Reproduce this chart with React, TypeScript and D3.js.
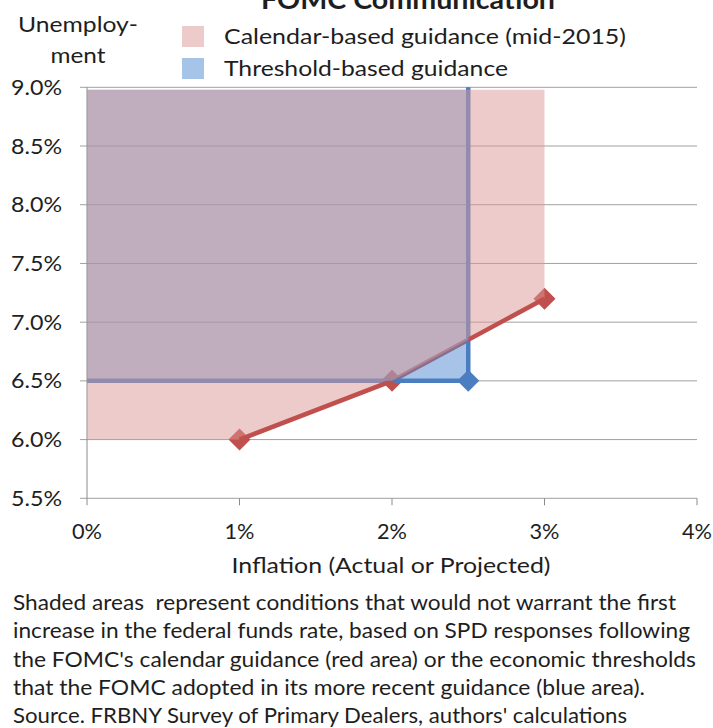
import React from "react";
import * as d3 from "d3";

// ---- data ----
const calendarInflation = [1, 2, 3];
const calendarUnemployment = [6.0, 6.5, 7.2];
const calendarAreaX = [0, 1, 2, 3, 3, 0];
const calendarAreaY = [6.0, 6.0, 6.5, 7.2, 8.98, 8.98];
const thresholdInflation = 2.5;
const thresholdUnemployment = 6.5;
const thresholdTop = 9.0;
const thresholdAreaTop = 8.98;
const xTicks = [0, 1, 2, 3, 4];
const xTickLabels = ["0%", "1%", "2%", "3%", "4%"];
const yTicks = [5.5, 6.0, 6.5, 7.0, 7.5, 8.0, 8.5, 9.0];
const yTickLabels = ["5.5%", "6.0%", "6.5%", "7.0%", "7.5%", "8.0%", "8.5%", "9.0%"];
const titleText = "FOMC Communication";
const legendLabels = ["Calendar-based guidance (mid-2015)", "Threshold-based guidance"];
const xAxisTitle = "Inflation (Actual or Projected)";
const yAxisTitle = ["Unemploy-", "ment"];
const footerLines = [
  "Shaded areas  represent conditions that would not warrant the first",
  "increase in the federal funds rate, based on SPD responses following",
  "the FOMC's calendar guidance (red area) or the economic thresholds",
  "that the FOMC adopted in its more recent guidance (blue area).",
  "Source. FRBNY Survey of Primary Dealers, authors' calculations",
];

const W = 713;
const H = 728;
const FONT = "Lato, 'Open Sans', sans-serif";
const TXT = "#1e1e1e";

export default function App() {
  const x = d3.scaleLinear().domain([0, 4]).range([87, 697]);
  const y = d3.scaleLinear().domain([5.5, 9.0]).range([498.3, 87.3]);

  const line = d3
    .line<[number, number]>()
    .x((d) => x(d[0]))
    .y((d) => y(d[1]));

  const redPts: [number, number][] = calendarInflation.map((v, i) => [v, calendarUnemployment[i]]);
  const redAreaPts: [number, number][] = calendarAreaX.map((v, i) => [v, calendarAreaY[i]]);
  const redAreaPath = line(redAreaPts) + "Z";
  const redLinePath = line(redPts) || "";

  const bx0 = x(0);
  const bx1 = x(thresholdInflation);
  const by0 = y(thresholdAreaTop);
  const by1 = y(thresholdUnemployment);
  const blueRectPath = `M${bx0},${by0}H${bx1}V${by1}H${bx0}Z`;
  const blueLinePath =
    line([
      [0, thresholdUnemployment],
      [thresholdInflation, thresholdUnemployment],
      [thresholdInflation, thresholdTop],
    ]) || "";

  const diamond = (cx: number, cy: number, r: number) =>
    `M${cx},${cy - r}L${cx + r},${cy}L${cx},${cy + r}L${cx - r},${cy}Z`;

  const outsideBlue = `M0,0H${W}V${H}H0Z ` + blueRectPath;

  const fs = 21.5;

  return (
    <svg
      width={W}
      height={H}
      style={{ position: "absolute", left: 0, top: 0, background: "#fff" }}
      fontFamily={FONT}
    >
      <defs>
        <clipPath id="inBlue">
          <path d={blueRectPath} />
        </clipPath>
        <clipPath id="outBlue">
          <path d={outsideBlue} clipRule="evenodd" />
        </clipPath>
      </defs>

      {/* title (cut off at top, as in the reference) */}
      <text x={408} y={9} textAnchor="middle" fontSize={27} fontWeight="bold" fill={TXT} textLength={294} lengthAdjust="spacingAndGlyphs">
        {titleText}
      </text>

      {/* y axis title */}
      <text x={78} y={32} textAnchor="middle" fontSize={fs} fill={TXT} textLength={120} lengthAdjust="spacingAndGlyphs">
        {yAxisTitle[0]}
      </text>
      <text x={78} y={63} textAnchor="middle" fontSize={fs} fill={TXT} textLength={55} lengthAdjust="spacingAndGlyphs">
        {yAxisTitle[1]}
      </text>

      {/* legend */}
      <rect x={182} y={26} width={22} height={21} fill="#ECCBCA" />
      <text x={224} y={44} fontSize={fs} fill={TXT} textLength={402} lengthAdjust="spacingAndGlyphs">
        {legendLabels[0]}
      </text>
      <rect x={182} y={58} width={22} height={21} fill="#A6C4E8" />
      <text x={224} y={76} fontSize={fs} fill={TXT} textLength={284} lengthAdjust="spacingAndGlyphs">
        {legendLabels[1]}
      </text>

      {/* gridlines */}
      {yTicks.map((t) => (
        <line key={"g" + t} x1={80} x2={x(4)} y1={y(t)} y2={y(t)} stroke="#A0A0A0" strokeWidth={1} />
      ))}
      {/* axes */}
      <line x1={x(0)} x2={x(0)} y1={y(9)} y2={y(5.5)} stroke="#8C8C8C" strokeWidth={1} />
      {xTicks.map((t) => (
        <line key={"xt" + t} x1={x(t)} x2={x(t)} y1={y(5.5)} y2={y(5.5) + 7} stroke="#8C8C8C" strokeWidth={1} />
      ))}

      {/* y tick labels */}
      {yTicks.map((t, i) => (
        <text key={"yl" + t} x={62} y={y(t) + 7.5} textAnchor="end" fontSize={fs} fill={TXT} textLength={51} lengthAdjust="spacingAndGlyphs">
          {yTickLabels[i]}
        </text>
      ))}
      {/* x tick labels */}
      {xTicks.map((t, i) => (
        <text key={"xl" + t} x={x(t)} y={539} textAnchor="middle" fontSize={fs} fill={TXT} textLength={30} lengthAdjust="spacingAndGlyphs">
          {xTickLabels[i]}
        </text>
      ))}
      <text x={391} y={573} textAnchor="middle" fontSize={fs} fill={TXT} textLength={319} lengthAdjust="spacingAndGlyphs">
        {xAxisTitle}
      </text>

      {/* red markers (under areas) */}
      {redPts.map((p, i) => (
        <path key={"rm" + i} d={diamond(x(p[0]), y(p[1]), 11)} fill="#C0504D" />
      ))}
      {/* red line part inside blue region (under blue area) */}
      <path d={redLinePath} fill="none" stroke="#C0504D" strokeWidth={4.5} clipPath="url(#inBlue)" />

      {/* blue area */}
      <path d={blueRectPath} fill="#4F89D2" fillOpacity={0.5} />
      {/* blue line */}
      <path d={blueLinePath} fill="none" stroke="#4A7EC0" strokeWidth={4.5} />
      <path d={diamond(x(thresholdInflation), y(thresholdUnemployment), 11)} fill="#4A7EC0" />

      {/* red area */}
      <path d={redAreaPath} fill="#D99795" fillOpacity={0.5} />

      {/* red line outside blue region */}
      <path d={redLinePath} fill="none" stroke="#C0504D" strokeWidth={4.5} clipPath="url(#outBlue)" />

      {/* footer */}
      {footerLines.map((s, i) => (
        <text
          key={"f" + i}
          x={13}
          y={610 + i * 28.3}
          fontSize={fs}
          fill={TXT}
          style={{ whiteSpace: "pre" }}
          textLength={[663, 677, 683, 632, 614][i]}
          lengthAdjust="spacingAndGlyphs"
        >
          {s}
        </text>
      ))}
    </svg>
  );
}
